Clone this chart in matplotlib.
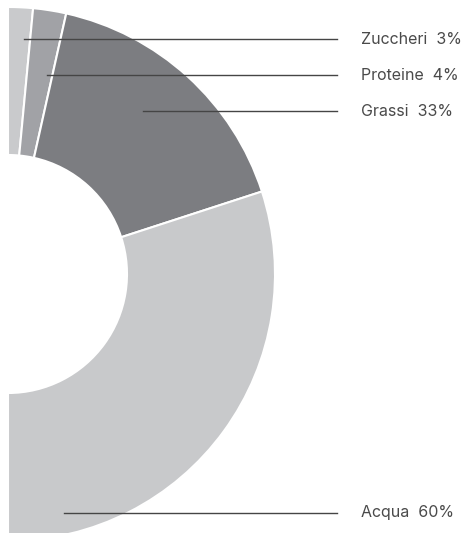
import matplotlib
matplotlib.use('Agg')
import matplotlib.pyplot as plt

# dati
categorie = ['Zuccheri', 'Proteine', 'Grassi', 'Acqua']
valori = [3, 4, 33, 60]
colori = ['#c9cacc', '#a1a2a6', '#7c7d81', '#c8c9cb']

# punti di partenza delle linee guida (pixel immagine) e y delle etichette
linea_x0 = [24, 47, 143, 64]
linea_y = [39, 75, 111, 513]

W, H = 477, 533
fig = plt.figure(figsize=(W / 100, H / 100), dpi=100)
ax = fig.add_axes([0, 0, 1, 1])

# mezza ciambella: uno spicchio invisibile pari al totale occupa l'altra metà
cx, cy = 8, H - 274
r_out, r_in = 267, 119
wedges, _ = ax.pie(valori + [sum(valori)], colors=colori + ['none'],
                   startangle=90, counterclock=False,
                   center=(cx, cy), radius=r_out,
                   wedgeprops=dict(width=r_out - r_in, edgecolor='white',
                                   linewidth=1.5))
wedges[-1].set_edgecolor('none')

ax.set_xlim(0, W)
ax.set_ylim(0, H)
ax.set_aspect('equal')
ax.axis('off')

# linee guida ed etichette
for nome, v, x0, y in zip(categorie, valori, linea_x0, linea_y):
    yy = H - y
    ax.plot([x0, 337], [yy, yy], color='#454545', lw=1)
    ax.text(361, yy, f'{nome}  {v}%', fontsize=11.5, family='Inter',
            color='#4a4a4a', va='center', ha='left')

fig.savefig('out.png', dpi=100)
